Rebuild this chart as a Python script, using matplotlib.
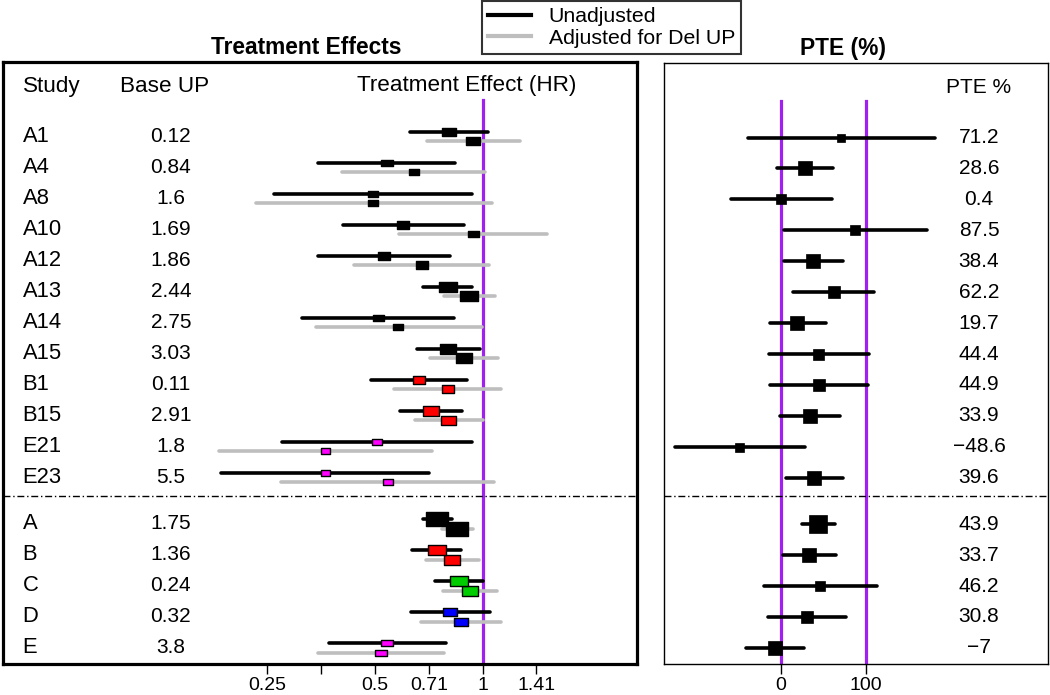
import matplotlib
matplotlib.use("Agg")
import matplotlib.pyplot as plt
from matplotlib.path import Path
from matplotlib.lines import Line2D
import numpy as np

plt.rcParams['font.family'] = ['Liberation Sans', 'DejaVu Sans']

# ---------------- data ----------------
studies = ["A1", "A4", "A8", "A10", "A12", "A13", "A14", "A15", "B1", "B15", "E21", "E23"]
study_base_up = ["0.12", "0.84", "1.6", "1.69", "1.86", "2.44", "2.75", "3.03", "0.11", "2.91", "1.8", "5.5"]
groups = ["A", "B", "C", "D", "E"]
group_base_up = ["1.75", "1.36", "0.24", "0.32", "3.8"]

# unadjusted HR (studies then groups)
hr_unadj = [0.807, 0.539, 0.494, 0.599, 0.529, 0.798, 0.509, 0.801, 0.662, 0.716, 0.506, 0.362,
            0.745, 0.744, 0.859, 0.812, 0.541]
lo_unadj = [0.626, 0.346, 0.261, 0.406, 0.346, 0.682, 0.313, 0.654, 0.486, 0.588, 0.275, 0.185,
            0.680, 0.636, 0.737, 0.629, 0.373]
hi_unadj = [1.037, 0.838, 0.935, 0.886, 0.812, 0.932, 0.830, 0.983, 0.906, 0.877, 0.932, 0.709,
            0.822, 0.871, 1.000, 1.048, 0.788]
# adjusted for Del UP
hr_adj = [0.941, 0.644, 0.495, 0.941, 0.677, 0.918, 0.581, 0.885, 0.798, 0.801, 0.362, 0.543,
          0.847, 0.822, 0.922, 0.868, 0.520]
lo_adj = [0.697, 0.405, 0.232, 0.585, 0.438, 0.781, 0.342, 0.712, 0.565, 0.647, 0.183, 0.273,
          0.768, 0.694, 0.776, 0.671, 0.347]
hi_adj = [1.271, 1.015, 1.060, 1.510, 1.043, 1.082, 0.994, 1.101, 1.125, 1.000, 0.720, 1.075,
          0.941, 0.975, 1.094, 1.123, 0.780]
# relative weights (box size)
w_unadj = [14.7, 11.3, 10.0, 12.0, 12.0, 18.3, 11.0, 16.7, 12.3, 16.0, 9.7, 9.0,
           22.0, 17.3, 18.0, 14.3, 11.3]
w_adj = [13.3, 10.7, 9.7, 11.0, 11.7, 18.3, 10.3, 15.3, 11.7, 15.0, 9.0, 9.7,
         22.0, 16.7, 16.7, 14.0, 11.3]

# PTE (%)
pte_est = [71.2, 28.6, 0.4, 87.5, 38.4, 62.2, 19.7, 44.4, 44.9, 33.9, -48.6, 39.6,
           43.9, 33.7, 46.2, 30.8, -7]
pte_lo = [-38.8, -4.0, -58.5, 3.9, 4.3, 14.1, -12.6, -13.8, -12.2, -0.8, -124.4, 6.2,
          24.7, 3.1, -20.0, -15.3, -41.2]
pte_hi = [181.9, 61.5, 60.0, 171.8, 72.9, 110.0, 52.9, 103.5, 103.0, 69.4, 29.0, 73.7,
          63.5, 65.0, 113.0, 76.8, 27.8]
pte_w = [8.0, 14.0, 10.7, 9.3, 13.7, 11.7, 13.7, 11.0, 11.3, 13.3, 9.0, 13.3,
         17.7, 14.0, 10.3, 12.0, 13.7]

hr_ticks = [0.25, 0.354, 0.5, 0.71, 1, 1.41]
hr_ticklabels = ["0.25", "", "0.5", "0.71", "1", "1.41"]
pte_ticks = [0, 100]

group_colors = {"A": "black", "B": "#FF0000", "C": "#00CD00", "D": "#0000FF", "E": "#FF00FF"}
PURPLE = "#A020F0"
GRAY = "#BEBEBE"

# ---------------- layout ----------------
labels = studies + groups
base_up = study_base_up + group_base_up
rows = list(range(len(studies))) + [len(studies) + 0.5 + i for i in range(len(groups))]
sep_y = len(studies) - 0.4
off = 0.155
FS_NUM = 15
FS_LAB = 15.8
FS_HEAD = 16.2

W, H = 1050, 695
fig = plt.figure(figsize=(10.5, 6.95), dpi=100)

def fx(px):
    return px / W

def fy(py):
    return 1 - py / H

ylo, yhi = 17.03, -2.4
axL = fig.add_axes([fx(3), fy(664.3), fx(636.7) - fx(3), fy(62.3) - fy(664.3)])
axR = fig.add_axes([fx(664.3), fy(664.3), fx(1048.3) - fx(664.3), fy(63.3) - fy(664.3)])

rect_marker = Path([(-1, -0.6), (1, -0.6), (1, 0.6), (-1, 0.6), (-1, -0.6)],
                   [Path.MOVETO, Path.LINETO, Path.LINETO, Path.LINETO, Path.CLOSEPOLY])

px2pt = 72 / 100
vtop = (ylo - (-1.18)) / (ylo - yhi)

# ---- left panel ----
axL.set_xscale('log', base=2)
axL.set_xlim(2 ** -4.454, 2 ** 1.430)
axL.set_ylim(ylo, yhi)
axL.axvline(1, ymin=0, ymax=vtop, color=PURPLE, lw=2.3, zorder=1)
for i, lab in enumerate(labels):
    y = rows[i]
    col = group_colors[lab[0]]
    axL.plot([lo_unadj[i], hi_unadj[i]], [y - off, y - off], color='black', lw=2.6,
             solid_capstyle='round', zorder=2)
    axL.plot([lo_adj[i], hi_adj[i]], [y + off, y + off], color=GRAY, lw=2.6,
             solid_capstyle='round', zorder=2)
    axL.plot([hr_unadj[i]], [y - off], marker=rect_marker, ms=w_unadj[i] * px2pt,
             mfc=col, mec='black', mew=1.0, ls='none', zorder=4)
    axL.plot([hr_adj[i]], [y + off], marker=rect_marker, ms=w_adj[i] * px2pt,
             mfc=col, mec='black', mew=1.0, ls='none', zorder=3)
    axL.text(0.031, y, lab, transform=axL.get_yaxis_transform(), fontsize=FS_LAB,
             ha='left', va='center')
    axL.text(0.265, y, base_up[i], transform=axL.get_yaxis_transform(), fontsize=FS_NUM,
             ha='center', va='center')

axL.text(0.031, -1.61, "Study", transform=axL.get_yaxis_transform(), fontsize=FS_HEAD,
         ha='left', va='center')
axL.text(0.2556, -1.61, "Base UP", transform=axL.get_yaxis_transform(), fontsize=FS_HEAD,
         ha='center', va='center')
axL.text(0.7317, -1.65, "Treatment Effect (HR)", transform=axL.get_yaxis_transform(),
         fontsize=FS_HEAD, ha='center', va='center')
axL.axhline(sep_y, color='black', lw=1.0, ls=(0, (5, 2, 1, 2)), zorder=1)
axL.set_xticks(hr_ticks)
axL.set_xticklabels(hr_ticklabels)
axL.xaxis.set_minor_locator(matplotlib.ticker.NullLocator())
axL.set_yticks([])
for s in axL.spines.values():
    s.set_linewidth(2.3)

# ---- right panel ----
axR.set_xlim(-136.9, 314.8)
axR.set_ylim(ylo, yhi)
for v in pte_ticks:
    axR.axvline(v, ymin=0, ymax=vtop, color=PURPLE, lw=2.3, zorder=1)
for i in range(len(labels)):
    y = rows[i]
    axR.plot([pte_lo[i], pte_hi[i]], [y, y], color='black', lw=2.6,
             solid_capstyle='round', zorder=2)
    axR.plot([pte_est[i]], [y], marker='s', ms=pte_w[i] * px2pt, mfc='black', mec='black',
             mew=0.5, ls='none', zorder=3)
    axR.text(0.8195, y, f"{pte_est[i]:g}".replace("-", "\u2212"),
             transform=axR.get_yaxis_transform(), fontsize=FS_NUM, ha='center', va='center')
axR.text(0.8195, -1.61, "PTE %", transform=axR.get_yaxis_transform(), fontsize=FS_NUM,
         ha='center', va='center')
axR.axhline(sep_y, color='black', lw=1.0, ls=(0, (5, 2, 1, 2)), zorder=1)
axR.set_xticks(pte_ticks)
axR.set_xticklabels([str(t) for t in pte_ticks])
axR.set_yticks([])
for s in axR.spines.values():
    s.set_linewidth(1.0)

for ax in (axL, axR):
    ax.tick_params(axis='x', direction='out', length=7.5, width=1.0, pad=1.5,
                   labelsize=14)

# titles
fig.text(fx(306), fy(48), "Treatment Effects", fontsize=16.4, fontweight='bold',
         ha='center', va='center')
fig.text(fx(843), fy(48), "PTE (%)", fontsize=16.4, fontweight='bold',
         ha='center', va='center')

# legend
handles = [Line2D([], [], color='black', lw=3), Line2D([], [], color=GRAY, lw=3)]
leg = fig.legend(handles, ["Unadjusted", "Adjusted for Del UP"], loc='upper left',
                 bbox_to_anchor=(fx(481.7), fy(1)), frameon=True, fancybox=False,
                 fontsize=15.3, handlelength=2.0, handletextpad=0.85, borderpad=0.3,
                 labelspacing=0.12, borderaxespad=0)
leg.get_frame().set_edgecolor('black')
leg.get_frame().set_linewidth(1.5)

fig.savefig("out.png", dpi=100)
